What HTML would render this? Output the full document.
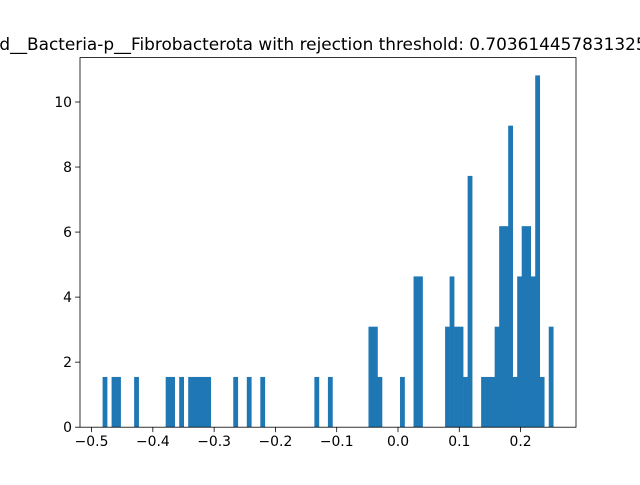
<!DOCTYPE html>
<html><head><meta charset="utf-8"><style>
body{margin:0;background:#fff;}
svg text{font-family:"DejaVu Sans","Liberation Sans",sans-serif;fill:#000;}
</style></head><body>
<svg id="chart" width="640" height="480" viewBox="0 0 640 480" xmlns="http://www.w3.org/2000/svg">
<rect width="640" height="480" fill="#fff"/>
<text x="323" y="50" font-size="16.9" text-anchor="middle">d__Bacteria-p__Fibrobacterota with rejection threshold: 0.703614457831325</text>
<g id="bars"></g>
<g id="axes"></g>
</svg>
<script>
const binMin = -0.482;
const binMax = 0.2533;
const binCounts = {0:1,2:1,3:1,7:1,14:1,15:1,17:1,19:1,20:1,21:1,22:1,23:1,29:1,32:1,35:1,47:1,50:1,
59:2,60:2,61:1,66:1,69:3,70:3,76:2,77:3,78:2,79:2,80:1,81:5,84:1,85:1,86:1,87:2,88:4,89:4,90:6,91:1,92:3,93:4,94:4,95:3,96:7,97:1,99:2};
const nBins = 100;
const xTicks = [-0.5,-0.4,-0.3,-0.2,-0.1,0.0,0.1,0.2];
const xTickLabels = ["−0.5","−0.4","−0.3","−0.2","−0.1","0.0","0.1","0.2"];
const yTicks = [0,2,4,6,8,10];

const L=80,R=576,T=57.6,B=427.2;
function x(v){return 398+612.9*v;}
function y(v){return B-32.52*v;}
const NS="http://www.w3.org/2000/svg";
const bars=document.getElementById('bars');
const axes=document.getElementById('axes');
const w=(binMax-binMin)/nBins;
let N=0; for(const k in binCounts) N+=binCounts[k];
for(let i=0;i<nBins;i++){
  const c=binCounts[i]||0; if(!c) continue;
  const d=c/(N*w);
  const x0=x(binMin+i*w), x1=x(binMin+(i+1)*w);
  const r=document.createElementNS(NS,'rect');
  
  
  r.setAttribute('x',x0);r.setAttribute('width',x1-x0+0.3);
  r.setAttribute('y',y(d));r.setAttribute('height',B-y(d));
  r.setAttribute('fill','#1f77b4');
  bars.appendChild(r);
}
const frame=document.createElementNS(NS,'rect');


frame.setAttribute('x',L);frame.setAttribute('y',T);frame.setAttribute('width',R-L);frame.setAttribute('height',B-T);
frame.setAttribute('fill','none');frame.setAttribute('stroke','#000');frame.setAttribute('stroke-width','0.8');
axes.appendChild(frame);
xTicks.forEach((v,i)=>{
  const l=document.createElementNS(NS,'line');
  
  
  l.setAttribute('x1',x(v));l.setAttribute('x2',x(v));l.setAttribute('y1',B);l.setAttribute('y2',B+4.9);
  l.setAttribute('stroke','#000');l.setAttribute('stroke-width','0.8');axes.appendChild(l);
  const t=document.createElementNS(NS,'text');
  
  
  t.setAttribute('x',x(v));t.setAttribute('y',B+19);t.setAttribute('font-size','13.9');t.setAttribute('text-anchor','middle');
  t.textContent=xTickLabels[i];axes.appendChild(t);
});
yTicks.forEach(v=>{
  const l=document.createElementNS(NS,'line');
  
  
  l.setAttribute('x1',L-4.9);l.setAttribute('x2',L);l.setAttribute('y1',y(v));l.setAttribute('y2',y(v));
  l.setAttribute('stroke','#000');l.setAttribute('stroke-width','0.8');axes.appendChild(l);
  const t=document.createElementNS(NS,'text');
  
  
  t.setAttribute('x',L-8);t.setAttribute('y',y(v)+5);t.setAttribute('font-size','13.9');t.setAttribute('text-anchor','end');
  t.textContent=String(v);axes.appendChild(t);
});
</script>
</body></html>
